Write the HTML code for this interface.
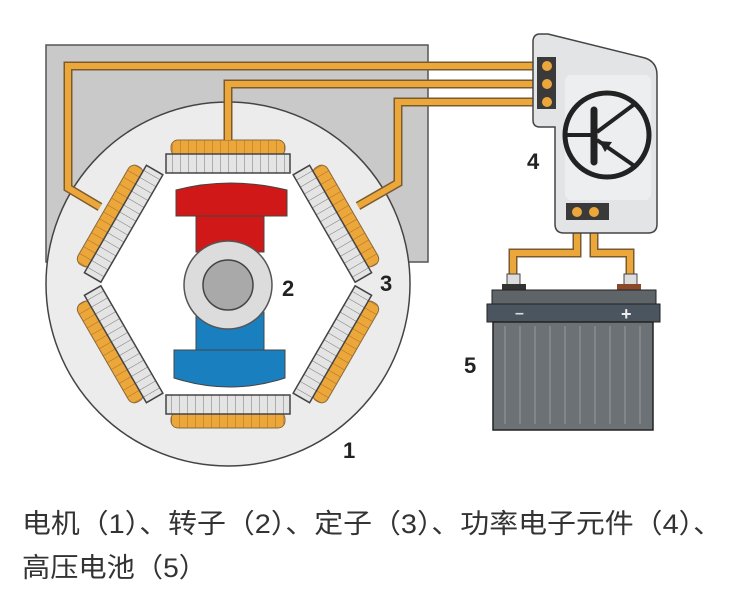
<!DOCTYPE html>
<html><head><meta charset="utf-8"><style>body{margin:0;background:#fff}svg{display:block}</style></head><body>
<svg width="750" height="600" viewBox="0 0 750 600" xmlns="http://www.w3.org/2000/svg">
<defs>
<pattern id="teeth" width="8" height="20" patternUnits="userSpaceOnUse"><rect width="8" height="20" fill="#e4e4e4"/><line x1="0" y1="0" x2="0" y2="20" stroke="#777" stroke-width="1"/></pattern>
<pattern id="coil" width="8" height="20" patternUnits="userSpaceOnUse"><rect width="8" height="20" fill="#eba73a"/><line x1="0" y1="0" x2="0" y2="20" stroke="#b06a2a" stroke-width="1"/></pattern>
<g id="pole">
<rect x="-57" y="-144" width="114" height="16" rx="7" fill="url(#coil)" stroke="#8a6a3a" stroke-width="1"/>
<rect x="-62" y="-130" width="124" height="19" fill="url(#teeth)" stroke="#444" stroke-width="1.5"/>
</g>
</defs>
<rect x="46" y="45" width="382" height="217" fill="#c9c9c9" stroke="#555" stroke-width="1.5"/>
<circle cx="228" cy="284" r="182" fill="#ececec" stroke="#444" stroke-width="1.5"/>
<polygon points="164,173 292,173 356,284 292,395 164,395 100,284" fill="#fff"/>
<g transform="translate(228,284)">
<use href="#pole"/><use href="#pole" transform="rotate(60)"/><use href="#pole" transform="rotate(120)"/><use href="#pole" transform="rotate(180)"/><use href="#pole" transform="rotate(240)"/><use href="#pole" transform="rotate(300)"/>
</g>
<!-- rotor -->
<rect x="196" y="212" width="68" height="40" fill="#d01818" stroke="#444"/>
<path d="M176,190 Q230,176 287,190 L287,216 L176,216 Z" fill="#d01818" stroke="#444"/>
<rect x="196" y="312" width="68" height="40" fill="#1a7fbf" stroke="#444"/>
<path d="M174,350 L285,350 L285,378 Q230,396 174,378 Z" fill="#1a7fbf" stroke="#444"/>
<circle cx="228" cy="285" r="44" fill="#dcdcdc" stroke="#555" stroke-width="1.5"/>
<circle cx="228" cy="285" r="25" fill="#a9a9a9" stroke="#444" stroke-width="1.5"/>
<!-- wires -->
<g fill="none" stroke-linejoin="miter">
<g stroke="#7a5a30" stroke-width="9">
<path d="M100,207 L68,188 L68,66 L545,66"/>
<path d="M228,140 L228,84 L545,84"/>
<path d="M358,206 L398,183 L398,102 L545,102"/>
<path d="M577,212 L577,253 L513,253 L513,278"/>
<path d="M594,212 L594,253 L630,253 L630,278"/>
</g>
<g stroke="#eba73a" stroke-width="6">
<path d="M100,207 L68,188 L68,66 L545,66"/>
<path d="M228,140 L228,84 L545,84"/>
<path d="M358,206 L398,183 L398,102 L545,102"/>
<path d="M577,212 L577,253 L513,253 L513,278"/>
<path d="M594,212 L594,253 L630,253 L630,278"/>
</g>
</g>
<!-- module -->
<path d="M540,34 Q533,34 533,42 L533,120 Q533,127 540,127 L555,127 L555,224 Q555,233 564,233 L648,233 Q657,233 657,224 L657,75 Q657,62 645,58 L548,34 Z" fill="#e2e4e6" stroke="#444" stroke-width="1.5"/>
<rect x="565" y="75" width="86" height="125" rx="6" fill="#eceef0"/>
<rect x="537" y="57" width="19" height="52" fill="#3a3a3a"/>
<circle cx="547" cy="66" r="5" fill="#eba73a"/><circle cx="547" cy="84" r="5" fill="#eba73a"/><circle cx="547" cy="102" r="5" fill="#eba73a"/>
<rect x="566" y="203" width="43" height="17" fill="#3a3a3a"/>
<circle cx="577" cy="212" r="5" fill="#eba73a"/><circle cx="594" cy="212" r="5" fill="#eba73a"/>
<circle cx="607" cy="135" r="42" fill="none" stroke="#222" stroke-width="5"/>
<line x1="594" y1="110" x2="594" y2="162" stroke="#222" stroke-width="7" stroke-linecap="round"/>
<line x1="566" y1="135" x2="594" y2="135" stroke="#222" stroke-width="4"/>
<line x1="597" y1="132" x2="636" y2="103" stroke="#222" stroke-width="4"/>
<line x1="597" y1="140" x2="636" y2="167" stroke="#222" stroke-width="4"/>
<polygon points="599,141 612,142 605,152" fill="#222"/>
<!-- battery -->
<rect x="507" y="274" width="13" height="12" fill="#ddd" stroke="#444"/>
<rect x="624" y="274" width="13" height="12" fill="#ddd" stroke="#444"/>
<rect x="502" y="284" width="24" height="6" fill="#333"/>
<rect x="617" y="284" width="24" height="6" fill="#8a4a2a"/>
<rect x="492" y="290" width="164" height="14" fill="#5f6468" stroke="#222"/>
<rect x="487" y="304" width="173" height="18" fill="#4a5560" stroke="#222"/>
<text x="515" y="318" font-family="Liberation Sans" font-size="16" fill="#ddd" font-weight="bold">–</text>
<text x="621" y="320" font-family="Liberation Sans" font-size="18" fill="#eee" font-weight="bold">+</text>
<rect x="493" y="322" width="160" height="108" fill="#6c7176" stroke="#222" stroke-width="1.5"/>
<g stroke="#888d92" stroke-width="1.5">
<line x1="505" y1="326" x2="505" y2="424"/><line x1="520" y1="326" x2="520" y2="424"/><line x1="535" y1="326" x2="535" y2="424"/><line x1="550" y1="326" x2="550" y2="424"/><line x1="565" y1="326" x2="565" y2="424"/><line x1="580" y1="326" x2="580" y2="424"/><line x1="595" y1="326" x2="595" y2="424"/><line x1="610" y1="326" x2="610" y2="424"/><line x1="625" y1="326" x2="625" y2="424"/><line x1="640" y1="326" x2="640" y2="424"/>
</g>
<g font-family="Liberation Sans" font-weight="bold" font-size="22" fill="#222">
<text x="282" y="296">2</text><text x="380" y="291">3</text><text x="343" y="458">1</text><text x="527" y="169">4</text><text x="464" y="373">5</text>
</g>
<g font-family="'Liberation Sans','Noto Sans CJK SC',sans-serif" font-size="27" fill="#333">
<text x="22" y="533" textLength="700" lengthAdjust="spacingAndGlyphs">电机（1）、转子（2）、定子（3）、功率电子元件（4）、</text>
<text x="22" y="577" textLength="185" lengthAdjust="spacingAndGlyphs">高压电池（5）</text>
</g>
</svg>
</body></html>
